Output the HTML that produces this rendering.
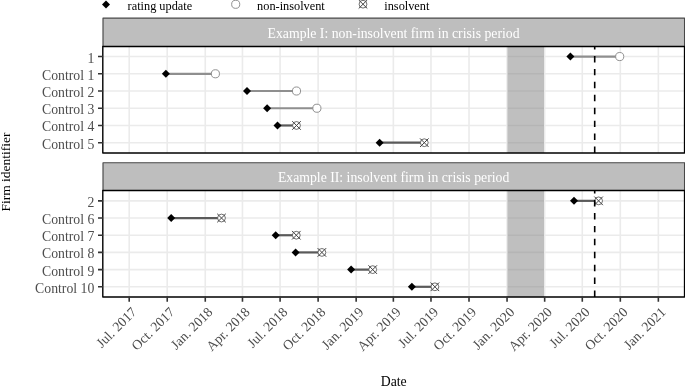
<!DOCTYPE html>
<html><head><meta charset="utf-8"><title>Firm rating timeline</title>
<style>
html,body{margin:0;padding:0;background:#fff;}
svg{display:block;font-family:"Liberation Serif","Times New Roman",serif;}
.ax{font-size:13.75px;fill:#4d4d4d;}
.lg{font-size:12.3px;fill:#000;}
.st{font-size:13.75px;fill:#fff;}
.ti{font-size:13.75px;fill:#000;}
</style></head><body>
<svg width="685" height="386" viewBox="0 0 685 386">
<rect width="685" height="386" fill="#fff"/>

<path d="M102.00 4.50L106.00 0.50L110.00 4.50L106.00 8.50Z" fill="#000"/>
<text class="lg" x="127.6" y="9.5">rating update</text>
<circle cx="235.70" cy="4.30" r="4.05" fill="#fff" stroke="#858585" stroke-width="0.9"/>
<text class="lg" x="257.1" y="9.5">non-insolvent</text>
<circle cx="363.00" cy="4.20" r="3.9" fill="#fff" stroke="#4a4a4a" stroke-width="0.8"/><path d="M358.70 -0.10L367.30 8.50M358.70 8.50L367.30 -0.10" stroke="#444" stroke-width="1.0" fill="none"/>
<text class="lg" x="384.3" y="9.5">insolvent</text>
<rect x="103.0" y="18.1" width="581.55" height="28.40" fill="#bebebe" stroke="#484848" stroke-width="1.15" stroke-linejoin="round"/>
<text class="st" x="393.6" y="38.10" text-anchor="middle">Example I: non-insolvent firm in crisis period</text>
<rect x="103.0" y="46.5" width="581.55" height="106.45" fill="#fff"/>
<path d="M103.0 56.55H684.55M103.0 73.78H684.55M103.0 91.01H684.55M103.0 108.24H684.55M103.0 125.47H684.55M103.0 142.70H684.55M129.20 46.5V152.95M167.23 46.5V152.95M205.27 46.5V152.95M242.47 46.5V152.95M280.09 46.5V152.95M318.12 46.5V152.95M356.16 46.5V152.95M393.36 46.5V152.95M430.98 46.5V152.95M469.01 46.5V152.95M507.05 46.5V152.95M544.67 46.5V152.95M582.29 46.5V152.95M620.32 46.5V152.95M658.35 46.5V152.95" stroke="#ebebeb" stroke-width="1.6" fill="none"/>
<rect x="507.5" y="46.5" width="36.5" height="106.45" fill="#7f7f7f" fill-opacity="0.5"/>
<path d="M570.4 56.55H619.7" stroke="#8f8f8f" stroke-width="2.2" fill="none"/>
<path d="M165.9 73.78H215.4" stroke="#8f8f8f" stroke-width="2.2" fill="none"/>
<path d="M247.0 91.01H296.5" stroke="#8f8f8f" stroke-width="2.2" fill="none"/>
<path d="M267.1 108.24H316.9" stroke="#8f8f8f" stroke-width="2.2" fill="none"/>
<path d="M277.5 125.47H296.5" stroke="#5a5a5a" stroke-width="2.2" fill="none"/>
<path d="M379.6 142.70H424.3" stroke="#5a5a5a" stroke-width="2.2" fill="none"/>
<circle cx="619.70" cy="56.55" r="4.05" fill="#fff" stroke="#858585" stroke-width="0.9"/>
<circle cx="215.40" cy="73.78" r="4.05" fill="#fff" stroke="#858585" stroke-width="0.9"/>
<circle cx="296.50" cy="91.01" r="4.05" fill="#fff" stroke="#858585" stroke-width="0.9"/>
<circle cx="316.90" cy="108.24" r="4.05" fill="#fff" stroke="#858585" stroke-width="0.9"/>
<circle cx="296.50" cy="125.47" r="3.9" fill="#fff" stroke="#4a4a4a" stroke-width="0.8"/><path d="M292.20 121.17L300.80 129.77M292.20 129.77L300.80 121.17" stroke="#444" stroke-width="1.0" fill="none"/>
<circle cx="424.30" cy="142.70" r="3.9" fill="#fff" stroke="#4a4a4a" stroke-width="0.8"/><path d="M420.00 138.40L428.60 147.00M420.00 147.00L428.60 138.40" stroke="#444" stroke-width="1.0" fill="none"/>
<path d="M566.40 56.55L570.40 52.55L574.40 56.55L570.40 60.55Z" fill="#000"/>
<path d="M161.90 73.78L165.90 69.78L169.90 73.78L165.90 77.78Z" fill="#000"/>
<path d="M243.00 91.01L247.00 87.01L251.00 91.01L247.00 95.01Z" fill="#000"/>
<path d="M263.10 108.24L267.10 104.24L271.10 108.24L267.10 112.24Z" fill="#000"/>
<path d="M273.50 125.47L277.50 121.47L281.50 125.47L277.50 129.47Z" fill="#000"/>
<path d="M375.60 142.70L379.60 138.70L383.60 142.70L379.60 146.70Z" fill="#000"/>
<path d="M594.7 152.95V46.5" stroke="#000" stroke-width="1.6" stroke-dasharray="6.45 6.48" fill="none"/>
<rect x="102.8" y="46.5" width="581.75" height="106.45" fill="none" stroke="#000" stroke-width="1.4" stroke-linejoin="round"/>
<text class="ax" x="94.3" y="62.55" text-anchor="end">1</text>
<text class="ax" x="94.3" y="79.78" text-anchor="end">Control 1</text>
<text class="ax" x="94.3" y="97.01" text-anchor="end">Control 2</text>
<text class="ax" x="94.3" y="114.24" text-anchor="end">Control 3</text>
<text class="ax" x="94.3" y="131.47" text-anchor="end">Control 4</text>
<text class="ax" x="94.3" y="148.70" text-anchor="end">Control 5</text>
<path d="M98.0 56.55H103.0M98.0 73.78H103.0M98.0 91.01H103.0M98.0 108.24H103.0M98.0 125.47H103.0M98.0 142.70H103.0" stroke="#333" stroke-width="1.6" fill="none"/>
<rect x="103.0" y="162.75" width="581.55" height="27.75" fill="#bebebe" stroke="#484848" stroke-width="1.15" stroke-linejoin="round"/>
<text class="st" x="393.6" y="182.43" text-anchor="middle">Example II: insolvent firm in crisis period</text>
<rect x="103.0" y="190.5" width="581.55" height="106.50" fill="#fff"/>
<path d="M103.0 200.85H684.55M103.0 218.04H684.55M103.0 235.23H684.55M103.0 252.42H684.55M103.0 269.61H684.55M103.0 286.80H684.55M129.20 190.5V297.0M167.23 190.5V297.0M205.27 190.5V297.0M242.47 190.5V297.0M280.09 190.5V297.0M318.12 190.5V297.0M356.16 190.5V297.0M393.36 190.5V297.0M430.98 190.5V297.0M469.01 190.5V297.0M507.05 190.5V297.0M544.67 190.5V297.0M582.29 190.5V297.0M620.32 190.5V297.0M658.35 190.5V297.0" stroke="#ebebeb" stroke-width="1.6" fill="none"/>
<rect x="507.5" y="190.5" width="36.5" height="106.50" fill="#7f7f7f" fill-opacity="0.5"/>
<path d="M574.0 200.85H598.6" stroke="#5a5a5a" stroke-width="2.2" fill="none"/>
<path d="M171.2 218.04H221.5" stroke="#5a5a5a" stroke-width="2.2" fill="none"/>
<path d="M275.7 235.23H296.3" stroke="#5a5a5a" stroke-width="2.2" fill="none"/>
<path d="M295.6 252.42H321.9" stroke="#5a5a5a" stroke-width="2.2" fill="none"/>
<path d="M351.1 269.61H372.7" stroke="#5a5a5a" stroke-width="2.2" fill="none"/>
<path d="M411.9 286.80H434.9" stroke="#5a5a5a" stroke-width="2.2" fill="none"/>
<circle cx="598.60" cy="200.85" r="3.9" fill="#fff" stroke="#4a4a4a" stroke-width="0.8"/><path d="M594.30 196.55L602.90 205.15M594.30 205.15L602.90 196.55" stroke="#444" stroke-width="1.0" fill="none"/>
<circle cx="221.50" cy="218.04" r="3.9" fill="#fff" stroke="#4a4a4a" stroke-width="0.8"/><path d="M217.20 213.74L225.80 222.34M217.20 222.34L225.80 213.74" stroke="#444" stroke-width="1.0" fill="none"/>
<circle cx="296.30" cy="235.23" r="3.9" fill="#fff" stroke="#4a4a4a" stroke-width="0.8"/><path d="M292.00 230.93L300.60 239.53M292.00 239.53L300.60 230.93" stroke="#444" stroke-width="1.0" fill="none"/>
<circle cx="321.90" cy="252.42" r="3.9" fill="#fff" stroke="#4a4a4a" stroke-width="0.8"/><path d="M317.60 248.12L326.20 256.72M317.60 256.72L326.20 248.12" stroke="#444" stroke-width="1.0" fill="none"/>
<circle cx="372.70" cy="269.61" r="3.9" fill="#fff" stroke="#4a4a4a" stroke-width="0.8"/><path d="M368.40 265.31L377.00 273.91M368.40 273.91L377.00 265.31" stroke="#444" stroke-width="1.0" fill="none"/>
<circle cx="434.90" cy="286.80" r="3.9" fill="#fff" stroke="#4a4a4a" stroke-width="0.8"/><path d="M430.60 282.50L439.20 291.10M430.60 291.10L439.20 282.50" stroke="#444" stroke-width="1.0" fill="none"/>
<path d="M570.00 200.85L574.00 196.85L578.00 200.85L574.00 204.85Z" fill="#000"/>
<path d="M167.20 218.04L171.20 214.04L175.20 218.04L171.20 222.04Z" fill="#000"/>
<path d="M271.70 235.23L275.70 231.23L279.70 235.23L275.70 239.23Z" fill="#000"/>
<path d="M291.60 252.42L295.60 248.42L299.60 252.42L295.60 256.42Z" fill="#000"/>
<path d="M347.10 269.61L351.10 265.61L355.10 269.61L351.10 273.61Z" fill="#000"/>
<path d="M407.90 286.80L411.90 282.80L415.90 286.80L411.90 290.80Z" fill="#000"/>
<path d="M594.7 297.0V190.5" stroke="#000" stroke-width="1.6" stroke-dasharray="6.45 6.48" fill="none"/>
<rect x="102.8" y="190.5" width="581.75" height="106.50" fill="none" stroke="#000" stroke-width="1.4" stroke-linejoin="round"/>
<text class="ax" x="94.3" y="206.85" text-anchor="end">2</text>
<text class="ax" x="94.3" y="224.04" text-anchor="end">Control 6</text>
<text class="ax" x="94.3" y="241.23" text-anchor="end">Control 7</text>
<text class="ax" x="94.3" y="258.42" text-anchor="end">Control 8</text>
<text class="ax" x="94.3" y="275.61" text-anchor="end">Control 9</text>
<text class="ax" x="94.3" y="292.80" text-anchor="end">Control 10</text>
<path d="M98.0 200.85H103.0M98.0 218.04H103.0M98.0 235.23H103.0M98.0 252.42H103.0M98.0 269.61H103.0M98.0 286.80H103.0" stroke="#333" stroke-width="1.6" fill="none"/>
<text class="ax" text-anchor="end" transform="translate(137.40 312.9) rotate(-45)">Jul. 2017</text>
<text class="ax" text-anchor="end" transform="translate(175.43 312.9) rotate(-45)">Oct. 2017</text>
<text class="ax" text-anchor="end" transform="translate(213.47 312.9) rotate(-45)">Jan. 2018</text>
<text class="ax" text-anchor="end" transform="translate(250.67 312.9) rotate(-45)">Apr. 2018</text>
<text class="ax" text-anchor="end" transform="translate(288.29 312.9) rotate(-45)">Jul. 2018</text>
<text class="ax" text-anchor="end" transform="translate(326.32 312.9) rotate(-45)">Oct. 2018</text>
<text class="ax" text-anchor="end" transform="translate(364.36 312.9) rotate(-45)">Jan. 2019</text>
<text class="ax" text-anchor="end" transform="translate(401.56 312.9) rotate(-45)">Apr. 2019</text>
<text class="ax" text-anchor="end" transform="translate(439.18 312.9) rotate(-45)">Jul. 2019</text>
<text class="ax" text-anchor="end" transform="translate(477.21 312.9) rotate(-45)">Oct. 2019</text>
<text class="ax" text-anchor="end" transform="translate(515.25 312.9) rotate(-45)">Jan. 2020</text>
<text class="ax" text-anchor="end" transform="translate(552.87 312.9) rotate(-45)">Apr. 2020</text>
<text class="ax" text-anchor="end" transform="translate(590.49 312.9) rotate(-45)">Jul. 2020</text>
<text class="ax" text-anchor="end" transform="translate(628.52 312.9) rotate(-45)">Oct. 2020</text>
<text class="ax" text-anchor="end" transform="translate(666.55 312.9) rotate(-45)">Jan. 2021</text>
<path d="M129.20 297.0V301.70M167.23 297.0V301.70M205.27 297.0V301.70M242.47 297.0V301.70M280.09 297.0V301.70M318.12 297.0V301.70M356.16 297.0V301.70M393.36 297.0V301.70M430.98 297.0V301.70M469.01 297.0V301.70M507.05 297.0V301.70M544.67 297.0V301.70M582.29 297.0V301.70M620.32 297.0V301.70M658.35 297.0V301.70" stroke="#333" stroke-width="1.6" fill="none"/>
<text class="ti" x="393.7" y="386.2" text-anchor="middle">Date</text>
<text class="ti" style="font-size:13.5px" text-anchor="middle" transform="translate(9.9 172.05) rotate(-90)">Firm identifier</text>
</svg></body></html>
